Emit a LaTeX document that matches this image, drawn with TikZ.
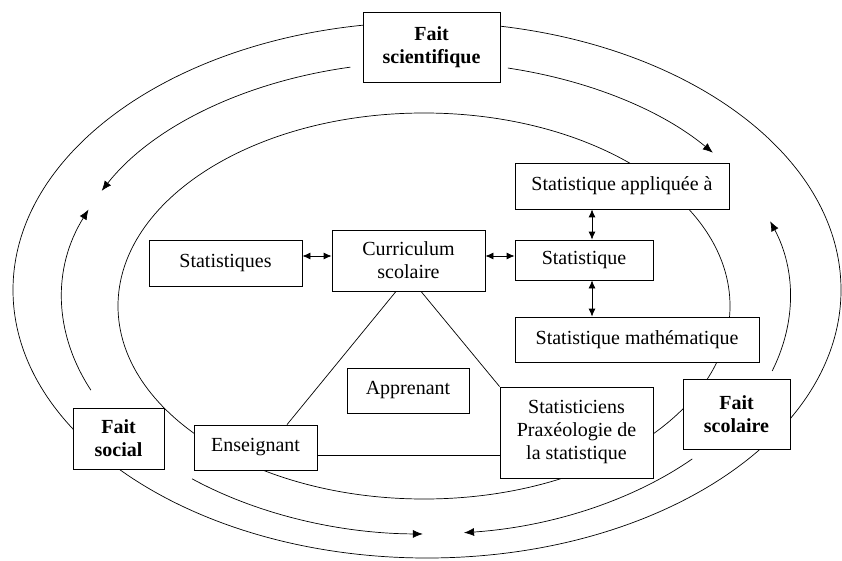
\documentclass[tikz,border=0pt]{standalone}
\usepackage{fontspec}
\setmainfont{Liberation Serif}
\usetikzlibrary{arrows.meta,calc}

\tikzset{
  box/.style={draw, fill=white, line width=0.8pt, align=center, inner sep=2pt,
    font=\fontsize{20}{23}\selectfont},
  fait/.style={box, font=\fontsize{20}{23}\selectfont\bfseries},
  ring/.style={line width=0.7pt},
  flow/.style={line width=0.7pt, -{Latex[length=10pt,width=8pt]}},
  dbl/.style={line width=0.8pt, {Latex[length=8pt,width=7pt]}-{Latex[length=8pt,width=7pt]}},
  link/.style={line width=0.7pt}
}

\begin{document}
\begin{tikzpicture}[x=1pt,y=1pt]
    \useasboundingbox (0,0) rectangle (842,-561);

    % Rings
    \draw[ring] (427,-290) ellipse [x radius=414, y radius=268];
    \draw[ring] (424,-306) ellipse [x radius=306, y radius=193];

    % Arrows running round between the rings
    \coordinate (mid) at (426,-298);
    \draw[flow] ($(mid)+(102:364 and 236)$) arc [start angle=102, end angle=153, x radius=364, y radius=236];
    \draw[flow] ($(mid)+(203:364 and 236)$) arc [start angle=203, end angle=158, x radius=364, y radius=236];
    \draw[flow] ($(mid)+(77:364 and 236)$) arc [start angle=77, end angle=38, x radius=364, y radius=236];
    \draw[flow] ($(mid)+(-18:364 and 236)$) arc [start angle=-18, end angle=19, x radius=364, y radius=236];
    \draw[flow] ($(mid)+(230:364 and 236)$) arc [start angle=230, end angle=269.5, x radius=364, y radius=236];
    \draw[flow] ($(mid)+(-43:364 and 236)$) arc [start angle=-43, end angle=-84, x radius=364, y radius=236];

    % Facts
    \node[fait, minimum width=137pt, minimum height=70pt] (sci) at (431.5,-47) {Fait\\scientifique};
    \node[fait, minimum width=91pt, minimum height=61pt] (soc) at (118.5,-438.5) {Fait\\social};
    \node[fait, minimum width=107pt, minimum height=70pt] (scol) at (736.5,-414) {Fait\\scolaire};

    % Boxes
    \node[box, minimum width=214pt, minimum height=46pt] (appl) at (622,-186) {Statistique appliquée à};
    \node[box, minimum width=153pt, minimum height=46pt] (stats) at (225.5,-263) {Statistiques};
    \node[box, minimum width=153pt, minimum height=61pt] (curr) at (408.5,-260.5) {Curriculum\\scolaire};
    \node[box, minimum width=138pt, minimum height=40pt] (stat) at (584,-260) {Statistique};
    \node[box, minimum width=244pt, minimum height=45pt] (math) at (637,-339.5) {Statistique mathématique};
    \node[box, minimum width=122pt, minimum height=45pt] (appr) at (408,-390.5) {Apprenant};
    \node[box, minimum width=153pt, minimum height=91pt] (prax) at (576.5,-432.5) {Statisticiens\\Praxéologie de\\la statistique};
    \node[box, minimum width=123pt, minimum height=45pt] (ens) at (255.5,-447.5) {Enseignant};

    % Double arrows
    \draw[dbl] ([yshift=7pt]stats.east) -- ([yshift=4.5pt]curr.west);
    \draw[dbl] ([yshift=4.5pt]curr.east) -- ([yshift=4pt]stat.west);
    \draw[dbl] ([xshift=-30pt]appl.south) -- ([xshift=8pt]stat.north);
    \draw[dbl] ([xshift=8pt]stat.south) -- ([xshift=-45pt]math.north);

    % Triangle
    \draw[link] ([xshift=-12.5pt]curr.south) -- ([xshift=31.5pt]ens.north);
    \draw[link] ([xshift=12.5pt]curr.south) -- (prax.north west);
    \draw[link] ([yshift=-7.5pt]ens.east) -- ([yshift=-22.5pt]prax.west);

\end{tikzpicture}
\end{document}
